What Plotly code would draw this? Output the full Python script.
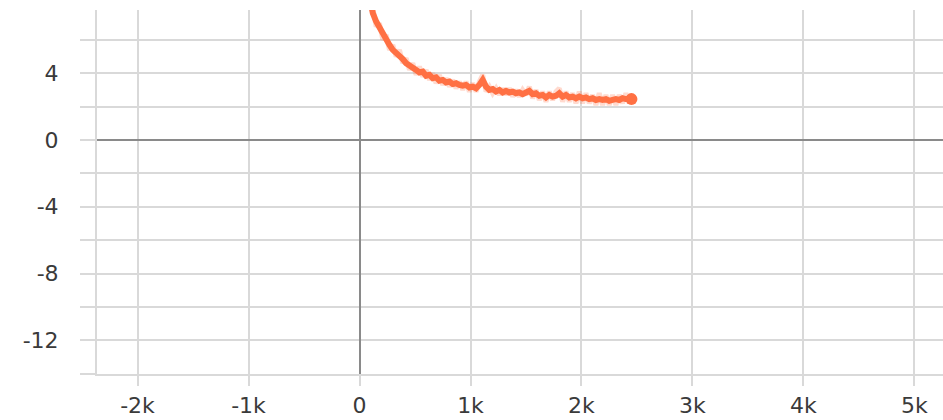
import plotly.graph_objects as go

steps = [60, 90, 120, 150, 180, 210, 240, 270, 300, 330, 360, 390, 420, 450, 480, 510, 540, 570, 600, 630,
         660, 690, 720, 750, 780, 810, 840, 870, 900, 930, 960, 990, 1020, 1050, 1080, 1110, 1140, 1170, 1200, 1230,
         1260, 1290, 1320, 1350, 1380, 1410, 1440, 1470, 1500, 1530, 1560, 1590, 1620, 1650, 1680, 1710, 1740, 1770,
         1800, 1830, 1860, 1890, 1920, 1950, 1980, 2010, 2040, 2070, 2100, 2130, 2160, 2190, 2220, 2250, 2280, 2310,
         2340, 2370, 2400, 2430, 2450]

smoothed = [9.6, 8.4, 7.6, 7.1, 6.7, 6.3, 6.0, 5.7, 5.4, 5.25, 5.05, 4.85, 4.6, 4.5, 4.3, 4.2, 4.05, 4.1, 3.85, 3.9,
            3.7, 3.75, 3.55, 3.6, 3.45, 3.5, 3.35, 3.4, 3.3, 3.25, 3.3, 3.15, 3.2, 3.1, 3.3, 3.6, 3.2, 3.0, 3.05, 2.9,
            3.0, 2.85, 2.95, 2.85, 2.9, 2.8, 2.85, 2.75, 2.85, 2.95, 2.75, 2.8, 2.65, 2.7, 2.55, 2.7, 2.6, 2.65,
            2.8, 2.6, 2.7, 2.55, 2.6, 2.5, 2.6, 2.5, 2.55, 2.45, 2.5, 2.4, 2.45, 2.4, 2.45, 2.35, 2.4, 2.45,
            2.4, 2.5, 2.45, 2.5, 2.45]

raw = [10.2, 8.0, 7.9, 6.8, 7.0, 6.0, 6.3, 5.4, 5.7, 5.0, 5.4, 4.6, 4.9, 4.2, 4.6, 3.9, 4.4, 3.8, 4.2, 3.6,
       4.0, 3.4, 3.9, 3.3, 3.7, 3.2, 3.6, 3.1, 3.5, 3.0, 3.5, 2.9, 3.4, 2.9, 3.5, 3.9, 2.9, 3.2, 2.8, 3.1,
       2.7, 3.1, 2.7, 3.1, 2.6, 3.0, 2.6, 3.0, 2.7, 3.2, 2.5, 3.0, 2.4, 2.9, 2.3, 2.9, 2.4, 2.9,
       3.1, 2.3, 2.9, 2.3, 2.8, 2.2, 2.9, 2.2, 2.8, 2.2, 2.7, 2.1, 2.8, 2.1, 2.7, 2.1, 2.7, 2.1,
       2.7, 2.2, 2.8, 2.2, 2.6]

x_tickvals = [-2000, -1000, 0, 1000, 2000, 3000, 4000, 5000]
x_ticktext = ["-2k", "-1k", "0", "1k", "2k", "3k", "4k", "5k"]
y_tickvals = [4, 0, -4, -8, -12]
y_ticktext = ["4", "0", "-4", "-8", "-12"]

color = "#ff7043"
grid = "#d9d9d9"
font = dict(family="DejaVu Sans", size=22, color="#3a3a3a")

fig = go.Figure()
fig.add_trace(go.Scatter(x=steps, y=raw, mode="lines",
                         line=dict(color=color, width=5), opacity=0.25, hoverinfo="skip"))
fig.add_trace(go.Scatter(x=steps, y=smoothed, mode="lines",
                         line=dict(color=color, width=6)))
fig.add_trace(go.Scatter(x=[steps[-1]], y=[smoothed[-1]], mode="markers",
                         marker=dict(color=color, size=12)))

fig.update_layout(
    width=943, height=420,
    margin=dict(l=97, r=0, t=10, b=46, autoexpand=False),
    paper_bgcolor="white", plot_bgcolor="white",
    showlegend=False,
    font=font,
)
fig.update_xaxes(
    range=[-2365, 5257],
    tickvals=x_tickvals, ticktext=x_ticktext,
    showgrid=True, gridcolor=grid, gridwidth=1.5,
    zeroline=True, zerolinecolor="#8a8a8a", zerolinewidth=2,
    showline=True, linecolor=grid, linewidth=2,
    ticks="outside", ticklen=10, tickcolor=grid, tickwidth=1.5,
    ticklabelstandoff=1,
)
fig.update_yaxes(
    range=[-14.02, 7.79],
    tickvals=y_tickvals, ticktext=y_ticktext,
    showgrid=True, gridcolor=grid, gridwidth=1.5,
    zeroline=True, zerolinecolor="#8a8a8a", zerolinewidth=2,
    showline=True, linecolor=grid, linewidth=2,
    ticks="outside", ticklen=15, tickcolor=grid, tickwidth=1.5,
    ticklabelstandoff=17,
    minor=dict(dtick=2, tick0=0, showgrid=True, gridcolor=grid, gridwidth=1.5,
               ticks="outside", ticklen=15, tickcolor=grid, tickwidth=1.5),
)

fig.write_html("out.html", config={"displayModeBar": False},
               post_script="document.body.style.margin='0';document.body.style.overflow='hidden';")
